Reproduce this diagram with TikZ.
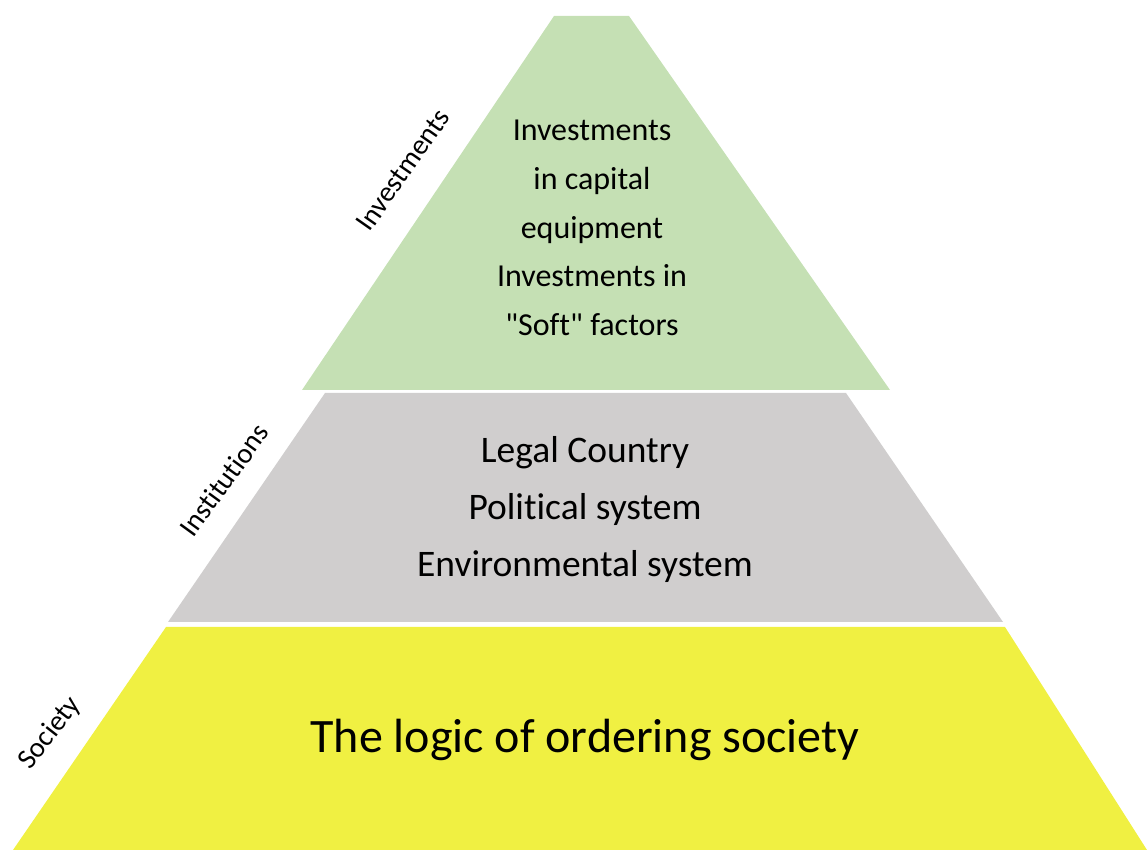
\documentclass[tikz,border=0pt]{standalone}
\usepackage{fontspec}
\setmainfont{Carlito}[Ligatures=NoCommon]
\newfontfamily\calfont{Carlito}[Ligatures=NoCommon]
\definecolor{invgreen}{HTML}{C5E0B4}
\definecolor{instgray}{HTML}{D0CECE}
\definecolor{socyellow}{HTML}{F0F042}
\begin{document}
\begin{tikzpicture}[x=1pt, y=1pt,
    layer/.style={fill=#1, draw=none},
    layertext/.style={align=center, inner sep=0pt},
    sidelabel/.style={inner sep=0pt, font=\calfont\fontsize{28.5}{34}\selectfont}]
      \useasboundingbox (0,0) rectangle (1147,850);

      % the three layers, bottom to top
      \path[layer=socyellow] (13,0) -- (1147,0) -- (1005,223) -- (166,223) -- cycle;
      \path[layer=instgray] (168,228) -- (1003,228) -- (846,457) -- (325,457) -- cycle;
      \path[layer=invgreen] (302,460) -- (890,460) -- (629,834) -- (554,834) -- cycle;

      \node[layertext, font=\calfont\fontsize{32}{48.75}\selectfont] (invtext) at (592,622)
        {Investments\\in capital\\equipment\\Investments in\\"Soft" factors};
      \node[layertext, font=\calfont\fontsize{37.5}{57}\selectfont] (insttext) at (585,340)
        {Legal Country\\Political system\\Environmental system};
      \node[layertext, font=\calfont\fontsize{48}{56}\selectfont] (soctext) at (585,110)
        {The logic of ordering society};

      \node[sidelabel, rotate=55] (invlabel) at (403,680) {Investments};
      \node[sidelabel, rotate=54] (instlabel) at (224,370) {Institutions};
      \node[sidelabel, rotate=52] (soclabel) at (50,117) {Society};

\end{tikzpicture}
\end{document}
